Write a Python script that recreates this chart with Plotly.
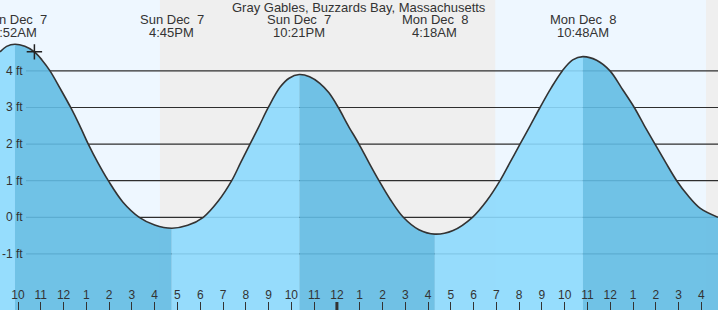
import plotly.graph_objects as go

# ---- data (hours since Sun Dec 7 00:00, water height in ft) ----
TIME_H = [9.21, 9.5, 9.867, 10.3, 10.72, 11.05, 11.405, 11.85, 12.313, 12.7,
          13.086, 13.5, 13.964, 14.6, 15.325, 16.0, 16.75, 17.45, 18.134, 18.8,
          19.381, 19.78, 20.184, 20.59, 20.988, 21.5, 21.9, 22.35, 22.8, 23.25,
          23.65, 24.061, 24.5, 24.969, 25.4, 25.847, 26.35, 26.914, 27.6, 28.3,
          29.1, 29.95, 30.6, 31.159, 31.6, 32.037, 32.48, 32.915, 33.4, 33.894,
          34.35, 34.8, 35.4, 35.988, 36.5, 37.054, 37.5, 37.963, 38.43, 38.916,
          39.4, 39.939, 40.729]
HEIGHT_FT = [4.52, 4.67, 4.73, 4.67, 4.52, 4.30, 4.0, 3.52, 3.0, 2.52,
             2.0, 1.50, 1.0, 0.42, 0.0, -0.21, -0.30, -0.22, 0.0, 0.45,
             1.0, 1.5, 2.0, 2.5, 3.0, 3.55, 3.80, 3.90, 3.84, 3.66,
             3.40, 3.0, 2.5, 2.0, 1.5, 1.0, 0.48, 0.0, -0.34, -0.46,
             -0.36, 0.0, 0.47, 1.0, 1.5, 2.0, 2.5, 3.0, 3.53, 4.0,
             4.30, 4.39, 4.29, 4.0, 3.53, 3.0, 2.5, 2.0, 1.5, 1.0,
             0.6, 0.25, 0.0]

EXTREME_TIMES = [9.867, 16.75, 22.35, 28.3, 34.8, 41.65]
EXTREME_DAYS = ["Sun Dec\u00a0\u00a07", "Sun Dec\u00a0\u00a07", "Sun Dec\u00a0\u00a07",
                "Mon Dec\u00a0\u00a08", "Mon Dec\u00a0\u00a08", "Mon Dec\u00a0\u00a08"]
EXTREME_CLOCK = ["9:52AM", "4:45PM", "10:21PM", "4:18AM", "10:48AM", "5:39PM"]

# falling (dark) / rising (light) segments between extremes
SEGMENT_BOUNDS = [9.21, 9.867, 16.75, 22.35, 28.3, 34.8, 40.729]
SEGMENT_FALLING = [False, True, False, True, False, True]

# night bands (hours)
NIGHT_BANDS = [(16.23, 30.95), (40.2, 41.0)]

HOUR_TICKS = list(range(10, 41))
HOUR_LABELS = ["10", "11", "12", "1", "2", "3", "4", "5", "6", "7", "8", "9", "10", "11",
               "12", "1", "2", "3", "4", "5", "6", "7", "8", "9", "10", "11", "12",
               "1", "2", "3", "4"]

FT_LEVELS = [-1, 0, 1, 2, 3, 4]
FT_LABELS = ["-1 ft", "0 ft", "1 ft", "2 ft", "3 ft", "4 ft"]

NOW_T = [10.72]
NOW_H = [4.52]

TITLE = "Gray Gables, Buzzards Bay, Massachusetts"

X_RANGE = [9.21, 40.729]
Y_RANGE = [-2.533, 5.937]
W, H = 718, 310

DAY_BG = "#eef7ff"
NIGHT_BG = "#efefef"
LIGHT_WATER = "rgba(140,217,253,0.9)"
DARK_WATER = "rgba(98,187,227,0.9)"
TEXT = "#333333"
FONT = "Liberation Sans, Arial, sans-serif"

fig = go.Figure()

# fills per segment
for i, fall in enumerate(SEGMENT_FALLING):
    a, b = SEGMENT_BOUNDS[i], SEGMENT_BOUNDS[i + 1]
    xs = [t for t in TIME_H if a - 1e-9 <= t <= b + 1e-9]
    ys = [h for t, h in zip(TIME_H, HEIGHT_FT) if a - 1e-9 <= t <= b + 1e-9]
    fig.add_trace(go.Scatter(x=[a, b], y=[Y_RANGE[0] - 1, Y_RANGE[0] - 1], mode="lines",
                             line=dict(width=0), hoverinfo="skip", showlegend=False))
    fig.add_trace(go.Scatter(x=xs, y=ys, mode="lines", fill="tonexty",
                             fillcolor=DARK_WATER if fall else LIGHT_WATER,
                             line=dict(width=0, shape="spline"), hoverinfo="skip",
                             showlegend=False))

# curve outline
fig.add_trace(go.Scatter(x=TIME_H, y=HEIGHT_FT, mode="lines",
                         line=dict(color="#333333", width=1.6, shape="spline"),
                         hoverinfo="skip", showlegend=False))

# current time marker
fig.add_trace(go.Scatter(x=NOW_T, y=NOW_H, mode="markers",
                         marker=dict(symbol="cross-thin", size=11,
                                     line=dict(color="#222222", width=1.5)),
                         hoverinfo="skip", showlegend=False))

shapes = []
shapes.append(dict(type="rect", xref="paper", yref="paper", x0=0, x1=1, y0=0, y1=1,
                   fillcolor=DAY_BG, line=dict(width=0), layer="below"))
for n0, n1 in NIGHT_BANDS:
    shapes.append(dict(type="rect", xref="x", yref="paper", x0=n0, x1=n1, y0=0, y1=1,
                       fillcolor=NIGHT_BG, line=dict(width=0), layer="below"))
for lv in FT_LEVELS:
    shapes.append(dict(type="line", xref="paper", yref="y", x0=26 / W, x1=1, y0=lv, y1=lv,
                       line=dict(color="#2e2e2e", width=1.2), layer="below"))
# thick midnight tick
shapes.append(dict(type="line", xref="x", yref="paper", x0=24, x1=24, y0=0, y1=8 / H,
                   line=dict(color="#333333", width=3), layer="above"))

annotations = []
annotations.append(dict(text=TITLE, xref="paper", yref="paper", x=0.5, y=1 - 8 / H,
                        xanchor="center", yanchor="middle", showarrow=False,
                        font=dict(size=13, color=TEXT, family=FONT)))
for t, d, c in zip(EXTREME_TIMES, EXTREME_DAYS, EXTREME_CLOCK):
    annotations.append(dict(text=d, xref="x", yref="paper", x=t, y=1 - 20 / H,
                            xanchor="center", yanchor="middle", showarrow=False,
                            font=dict(size=13, color=TEXT, family=FONT)))
    annotations.append(dict(text=c, xref="x", yref="paper", x=t, y=1 - 32 / H,
                            xanchor="center", yanchor="middle", showarrow=False,
                            font=dict(size=13, color=TEXT, family=FONT)))
for lv, lab in zip(FT_LEVELS, FT_LABELS):
    annotations.append(dict(text=lab, xref="paper", yref="y", x=25 / W, y=lv,
                            xanchor="right", yanchor="middle", showarrow=False,
                            font=dict(size=12, color=TEXT, family=FONT)))

fig.update_layout(
    width=W, height=H, margin=dict(l=0, r=0, t=0, b=0, pad=0),
    paper_bgcolor=DAY_BG, plot_bgcolor=DAY_BG,
    showlegend=False, shapes=shapes, annotations=annotations,
    xaxis=dict(range=X_RANGE, showgrid=False, zeroline=False, showline=False,
               tickmode="array", tickvals=HOUR_TICKS, ticktext=HOUR_LABELS,
               ticks="inside", ticklen=8, tickcolor="#333333", tickwidth=1,
               ticklabelposition="inside", layer="above traces",
               tickfont=dict(size=12, color=TEXT, family=FONT)),
    yaxis=dict(range=Y_RANGE, showgrid=False, zeroline=False, showline=False,
               showticklabels=False, ticks=""),
)

fig.write_html("out.html")
